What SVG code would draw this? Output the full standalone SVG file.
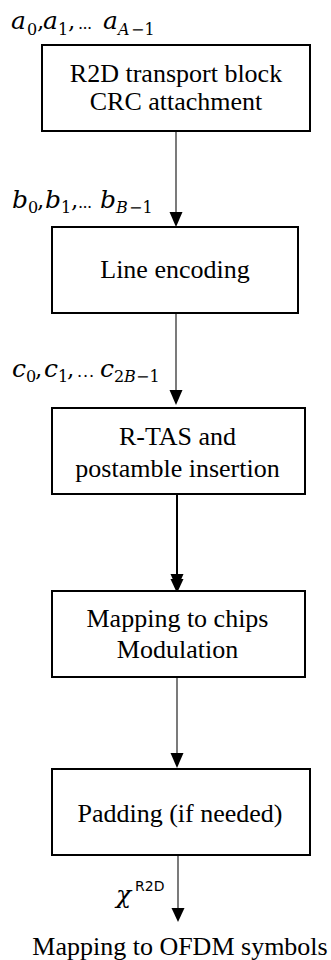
<svg xmlns="http://www.w3.org/2000/svg" width="331" height="960" viewBox="0 0 331 960">
<style>
.box{fill:#fff;stroke:#000;stroke-width:2}
.t{font-family:"Liberation Serif","Times New Roman",serif;font-size:26px;fill:#000;text-anchor:middle}
.m{font-family:"DejaVu Serif",serif;font-style:italic;font-size:25px;fill:#000}
.s{font-family:"DejaVu Serif",serif;font-size:16px;fill:#000}
.si{font-family:"DejaVu Serif",serif;font-style:italic;font-size:16px;fill:#000}
.p{font-family:"DejaVu Serif",serif;font-size:23px;fill:#000}
.d{font-family:"DejaVu Serif",serif;font-size:16px;fill:#000}
.ln{stroke:#222;stroke-width:1.2;fill:none}
.hd{fill:#000}
</style>
<rect width="331" height="960" fill="#fff"/>
<g id="connectors">
  <line class="ln" x1="176" y1="131" x2="176" y2="214"/>
  <polygon class="hd" points="169.5,212 182.5,212 176,227"/>
  <line class="ln" x1="176" y1="313" x2="176" y2="392"/>
  <polygon class="hd" points="169.5,390 182.5,390 176,405"/>
  <line class="ln" x1="177" y1="494" x2="177" y2="578" style="stroke-width:2;stroke:#000"/>
  <polygon class="hd" points="170.5,574 183.5,574 177,589"/>
  <polygon class="hd" points="170.5,579 183.5,579 177,593"/>
  <line class="ln" x1="177" y1="677" x2="177" y2="755"/>
  <polygon class="hd" points="170.5,753 183.5,753 177,768"/>
  <line class="ln" x1="178" y1="855" x2="178" y2="910"/>
  <polygon class="hd" points="171.5,908 184.5,908 178,922"/>
</g>
<g id="label-a">
  <text class="m" x="11" y="29">a</text><text class="s" x="27" y="35">0</text><text class="p" x="37" y="29">,</text>
  <text class="m" x="43" y="29">a</text><text class="s" x="58" y="35">1</text><text class="p" x="68" y="29">,</text>
  <text class="d" x="78" y="29" textLength="14" lengthAdjust="spacing">...</text>
  <text class="m" x="103" y="29">a</text><text class="si" x="118" y="35">A</text><text class="s" x="131" y="35">−1</text>
</g>
<g id="node1">
  <rect class="box" x="42" y="45" width="268" height="86"/>
  <text class="t" x="176" y="82">R2D transport block</text>
  <text class="t" x="176" y="110">CRC attachment</text>
</g>
<g id="label-b">
  <text class="m" x="12" y="208">b</text><text class="s" x="28" y="213">0</text><text class="p" x="37" y="208">,</text>
  <text class="m" x="45" y="208">b</text><text class="s" x="61" y="213">1</text><text class="p" x="71" y="208">,</text>
  <text class="d" x="78" y="208" textLength="14" lengthAdjust="spacing">...</text>
  <text class="m" x="100" y="208">b</text><text class="si" x="116" y="213">B</text><text class="s" x="129" y="213">−1</text>
</g>
<g id="node2">
  <rect class="box" x="52" y="227" width="246" height="86"/>
  <text class="t" x="175" y="278">Line encoding</text>
</g>
<g id="label-c">
  <text class="m" x="12" y="377">c</text><text class="s" x="26" y="382">0</text><text class="p" x="35" y="377">,</text>
  <text class="m" x="44" y="377">c</text><text class="s" x="58" y="382">1</text><text class="p" x="67" y="377">,</text>
  <text class="d" x="77" y="377" textLength="17" lengthAdjust="spacing">...</text>
  <text class="m" x="100" y="377">c</text><text class="s" x="114" y="382">2</text><text class="si" x="124" y="382">B</text><text class="s" x="136" y="382">−1</text>
</g>
<g id="node3">
  <rect class="box" x="52" y="408" width="253" height="86"/>
  <text class="t" x="177.5" y="445">R-TAS and</text>
  <text class="t" x="177.5" y="477">postamble insertion</text>
</g>
<g id="node4">
  <rect class="box" x="52" y="591" width="253" height="86"/>
  <text class="t" x="177.5" y="627">Mapping to chips</text>
  <text class="t" x="177.5" y="658">Modulation</text>
</g>
<g id="node5">
  <rect class="box" x="52" y="769" width="258" height="86"/>
  <text class="t" x="180" y="822">Padding (if needed)</text>
</g>
<g id="label-x">
  <text class="m" x="116" y="903">χ</text><text class="s" x="135" y="891" style="font-family:'DejaVu Sans',sans-serif;font-size:14px">R2D</text>
</g>
<g id="output">
  <text class="t" x="180" y="955">Mapping to OFDM symbols</text>
</g>
</svg>
